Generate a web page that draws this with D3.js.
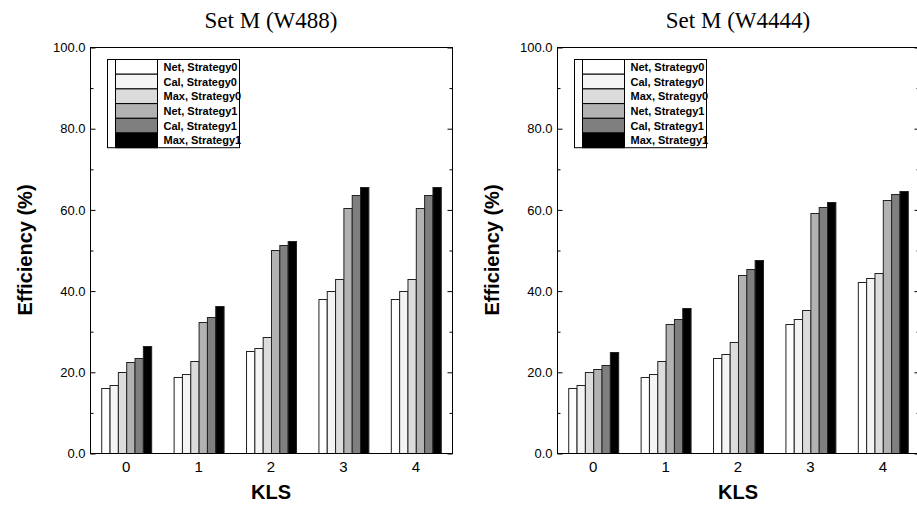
<!DOCTYPE html>
<html>
<head>
<meta charset="utf-8">
<script src="https://d3js.org/d3.v7.min.js"></script>
<style>
body { margin: 0; background: #fff; }
text { font-family: Arial, "Liberation Sans", sans-serif; }
</style>
</head>
<body>
<script>
// KLS levels on the x axis
var categories = ["0", "1", "2", "3", "4"];
var seriesNames = ["Net, Strategy0", "Cal, Strategy0", "Max, Strategy0",
                   "Net, Strategy1", "Cal, Strategy1", "Max, Strategy1"];
var seriesFills = ["#ffffff", "#f4f4f4", "#dcdcdc", "#b2b2b2", "#7f7f7f", "#000000"];

// efficiency (%) per KLS level, one value per series
var setW488 = [
  [16.1, 16.7, 20.0, 22.3, 23.3, 26.4],
  [18.8, 19.5, 22.7, 32.2, 33.4, 36.1],
  [25.2, 25.9, 28.6, 49.9, 51.2, 52.3],
  [37.9, 39.8, 42.8, 60.4, 63.5, 65.4],
  [37.9, 39.8, 42.8, 60.4, 63.5, 65.4]
];
var setW4444 = [
  [15.9, 16.7, 20.0, 20.8, 21.6, 24.8],
  [18.8, 19.5, 22.7, 31.7, 33.0, 35.8],
  [23.5, 24.3, 27.3, 43.9, 45.4, 47.5],
  [31.8, 32.9, 35.2, 59.2, 60.6, 61.7],
  [42.1, 43.0, 44.3, 62.3, 63.7, 64.5]
];
var majorTicks = [0, 20, 40, 60, 80, 100];
var minorTicks = [10, 30, 50, 70, 90];

var svg = d3.select("body").append("svg")
    .attr("width", 917).attr("height", 507);

function drawPanel(left, title, values) {
  var width = 362, top = 47, bottom = 453;
  var right = left + width;

  var x = d3.scaleBand().domain(categories)
      .range([left, right]).paddingInner(0.31).paddingOuter(0.155);
  var xs = d3.scaleBand().domain(d3.range(seriesNames.length))
      .range([0, x.bandwidth()]);
  var y = d3.scaleLinear().domain([0, 100]).range([bottom, top]);

  var g = svg.append("g");

  // bars
  var groups = g.selectAll(".grp").data(values).enter().append("g")
      .attr("class", "grp")
      .attr("transform", function(d, i) { return "translate(" + x(categories[i]) + ",0)"; });
  groups.selectAll("rect").data(function(d) { return d; }).enter().append("rect")
      .attr("x", function(d, j) { return xs(j) + 0.5; })
      .attr("y", function(d) { return Math.round(y(d)) + 0.5; })
      .attr("width", xs.bandwidth())
      .attr("height", function(d) { return bottom - Math.round(y(d)); })
      .style("fill", function(d, j) { return seriesFills[j]; })
      .style("stroke", "#222")
      .style("stroke-width", 1);

  // frame
  g.append("rect")
      .attr("x", left + 0.5).attr("y", top + 0.5)
      .attr("width", width).attr("height", bottom - top)
      .style("fill", "none").style("stroke", "#000").style("stroke-width", 1);

  // y axis (ticks inside)
  var yaxis = g.append("g").attr("transform", "translate(" + (left + 0.5) + ",0.5)")
      .call(d3.axisLeft(y).tickValues(majorTicks).tickSizeInner(-5).tickSizeOuter(0)
            .tickPadding(5).tickFormat(d3.format(".1f")));
  yaxis.select(".domain").remove();
  yaxis.selectAll("text").style("font-size", "13px").style("font-family", "Arial, 'Liberation Sans'").attr("fill", "#000");
  var ymin = g.append("g").attr("transform", "translate(" + (left + 0.5) + ",0.5)")
      .call(d3.axisLeft(y).tickValues(minorTicks).tickSizeInner(-3).tickSizeOuter(0).tickFormat(""));
  ymin.select(".domain").remove();

  var yr = g.append("g").attr("transform", "translate(" + (right + 0.5) + ",0.5)")
      .call(d3.axisRight(y).tickValues(majorTicks).tickSizeInner(-5).tickSizeOuter(0).tickFormat(""));
  yr.select(".domain").remove();
  var yrm = g.append("g").attr("transform", "translate(" + (right + 0.5) + ",0.5)")
      .call(d3.axisRight(y).tickValues(minorTicks).tickSizeInner(-3).tickSizeOuter(0).tickFormat(""));
  yrm.select(".domain").remove();

  // x axis
  var xaxis = g.append("g").attr("transform", "translate(0," + bottom + ")")
      .call(d3.axisBottom(x).tickSize(0).tickPadding(8));
  xaxis.select(".domain").remove();
  xaxis.selectAll("text").style("font-size", "15px").style("font-family", "Arial, 'Liberation Sans'").attr("fill", "#000");

  // titles
  g.append("text")
      .attr("x", (left + right) / 2).attr("y", 28)
      .attr("text-anchor", "middle")
      .style("font-family", "'Liberation Serif', 'Times New Roman', serif")
      .style("font-size", "23px")
      .text(title);
  g.append("text")
      .attr("x", (left + right) / 2).attr("y", 499)
      .attr("text-anchor", "middle")
      .style("font-size", "20px").style("font-weight", "bold")
      .text("KLS");
  g.append("text")
      .attr("transform", "translate(" + (left - 58) + "," + ((top + bottom) / 2) + ") rotate(-90)")
      .attr("text-anchor", "middle")
      .style("font-size", "20px").style("font-weight", "bold")
      .text("Efficiency (%)");

  // legend
  var lx = left + 17, ly = 59, rowH = 14.7, boxW = 132;
  var leg = g.append("g").attr("transform", "translate(" + (lx + 0.5) + "," + (ly + 0.5) + ")");
  leg.append("rect")
      .attr("width", boxW).attr("height", rowH * seriesNames.length)
      .style("fill", "#fff").style("stroke", "#000");
  leg.append("line")
      .attr("x1", 8).attr("x2", 8).attr("y1", 0).attr("y2", rowH * seriesNames.length)
      .style("stroke", "#000");
  var rows = leg.selectAll(".row").data(seriesNames).enter().append("g")
      .attr("transform", function(d, i) { return "translate(0," + (i * rowH) + ")"; });
  rows.append("rect")
      .attr("x", 8).attr("width", 42).attr("height", rowH)
      .style("fill", function(d, i) { return seriesFills[i]; })
      .style("stroke", "#000");
  rows.append("text")
      .attr("x", 56).attr("y", rowH / 2 + 4)
      .style("font-size", "11px").style("font-weight", "bold")
      .text(function(d) { return d; });
}

drawPanel(90, "Set M (W488)", setW488);
drawPanel(557, "Set M (W4444)", setW4444);
</script>
</body>
</html>
